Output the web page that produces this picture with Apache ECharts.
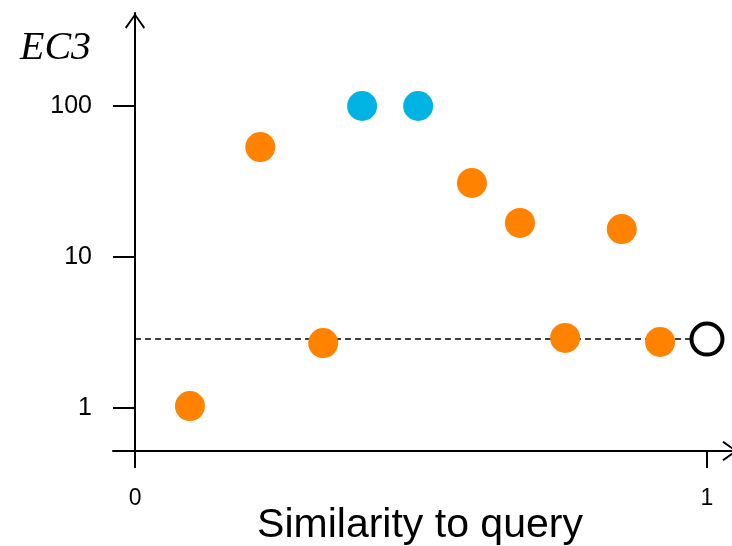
<!DOCTYPE html>
<html>
<head>
<meta charset="utf-8">
<script src="https://cdn.jsdelivr.net/npm/echarts@6/dist/echarts.min.js"></script>
<style>html,body{margin:0;padding:0;background:#fff}#c{width:732px;height:546px}</style>
</head>
<body>
<div id="c"></div>
<script>
// Data
const orangePoints = [
  [0.096, 1.03], [0.219, 53.5], [0.329, 2.69], [0.589, 30.9],
  [0.673, 16.8], [0.752, 2.91], [0.851, 15.3], [0.918, 2.74]
];
const bluePoints = [[0.397, 100], [0.495, 100]];
const queryPoint = [[1.0, 2.86]];
const thresholdValue = 2.86;
const thresholdLine = [[0, thresholdValue], [1.0, thresholdValue]];
const xTickValues = [0, 1];
const yTickValues = [1, 10, 100];

const chevron = 'path://M10,0 L20,14 L18.6,15.4 L10,3 L1.4,15.4 L0,14 Z';

const chart = echarts.init(document.getElementById('c'), null, {renderer: 'canvas'});
chart.setOption({
  animation: false,
  backgroundColor: '#fff',
  title: {
    text: 'EC3', left: 15, top: 23,
    textStyle: {fontFamily: 'Liberation Serif', fontStyle: 'italic', fontWeight: 'normal', fontSize: 40, color: '#000'}
  },
  grid: {left: 113, right: -6, top: 13, bottom: 95, containLabel: false, outerBoundsMode: 'none'},
  xAxis: {
    type: 'value', min: -0.0385, max: 1.0542,
    name: 'Similarity to query', nameLocation: 'middle', nameGap: 54, nameMoveOverlap: false,
    nameTextStyle: {fontFamily: 'Liberation Sans', fontSize: 41, color: '#000', padding: [0, 11, 0, 0]},
    axisLine: {onZero: false, lineStyle: {color: '#000', width: 2}, symbol: ['none', chevron], symbolSize: [20, 16], symbolOffset: [0, -8]},
    axisTick: {show: true, length: 17, customValues: xTickValues, lineStyle: {color: '#000', width: 2}},
    axisLabel: {customValues: xTickValues, margin: 36, fontFamily: 'Liberation Sans', fontSize: 23, color: '#000'},
    splitLine: {show: false}
  },
  yAxis: {
    type: 'log', logBase: 10, min: 0.519, max: 413,
    axisLine: {onZero: true, lineStyle: {color: '#000', width: 2}, symbol: ['none', chevron], symbolSize: [20, 16], symbolOffset: [0, -8]},
    axisTick: {show: true, length: 22, customValues: yTickValues, lineStyle: {color: '#000', width: 2}},
    axisLabel: {customValues: yTickValues, margin: 21, fontFamily: 'Liberation Sans', fontSize: 25, color: '#000'},
    splitLine: {show: false}, minorTick: {show: false}, minorSplitLine: {show: false}
  },
  series: [
    {
      type: 'line', data: thresholdLine, symbol: 'none', z: 1,
      lineStyle: {color: '#000', width: 1.5, type: [6, 4]}
    },
    {
      type: 'scatter', data: orangePoints, symbolSize: 30, z: 3,
      itemStyle: {color: '#FF8200', opacity: 1}
    },
    {
      type: 'scatter', data: bluePoints, symbolSize: 30, z: 3,
      itemStyle: {color: '#00B3E3', opacity: 1}
    },
    {
      type: 'scatter', data: queryPoint, symbolSize: 31, z: 4,
      itemStyle: {color: '#fff', borderColor: '#000', borderWidth: 4, opacity: 1}
    }
  ]
});
</script>
</body>
</html>
